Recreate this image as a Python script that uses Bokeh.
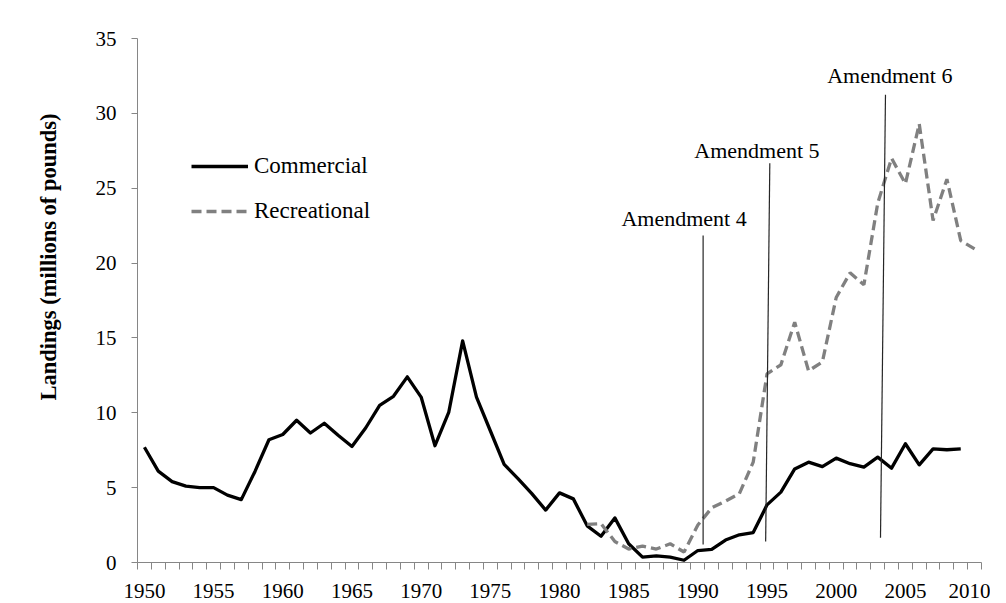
from bokeh.plotting import figure
from bokeh.models import Range1d, FixedTicker, Title, Legend, LegendItem, ColumnDataSource
from bokeh.core.properties import value
from bokeh.embed import file_html
from bokeh.resources import INLINE

# ---- data ----
years_com = list(range(1950, 2010))
commercial = [7.7, 6.1, 5.4, 5.1, 5.0, 5.0, 4.5, 4.2, 6.1, 8.2,
              8.55, 9.5, 8.65, 9.3, 8.5, 7.75, 9.0, 10.5, 11.1, 12.4,
              11.05, 7.8, 10.05, 14.8, 11.05, 8.8, 6.55, 5.6, 4.6, 3.5,
              4.65, 4.25, 2.45, 1.75, 2.98, 1.25, 0.36, 0.44, 0.36, 0.15,
              0.8, 0.87, 1.5, 1.85, 2.0, 3.85, 4.7, 6.25, 6.7, 6.4,
              6.97, 6.6, 6.37, 7.04, 6.3, 7.93, 6.52, 7.59, 7.53, 7.59]
years_rec = list(range(1982, 2011))
recreational = [2.55, 2.6, 1.4, 0.9, 1.1, 0.9, 1.25, 0.7, 2.5, 3.65,
                4.1, 4.6, 6.7, 12.6, 13.2, 16.05, 12.8, 13.4, 17.7, 19.35,
                18.55, 24.0, 27.0, 25.3, 29.3, 22.85, 25.6, 21.5, 20.95]
x_tick_years = [1950, 1955, 1960, 1965, 1970, 1975, 1980, 1985, 1990, 1995, 2000, 2005, 2010]
y_ticks = [0, 5, 10, 15, 20, 25, 30, 35]

amend_names = ["Amendment 4", "Amendment 5", "Amendment  6"]
amend_x_bottom = [1990.38, 1994.9, 2003.2]
amend_y_bottom = [1.2, 1.4, 1.65]
amend_x_top = [1990.38, 1995.2, 2003.56]
amend_y_top = [21.84, 26.67, 31.24]
amend_text_x = [1989.0, 1994.27, 2004.07]
amend_text_y = [22.98, 27.52, 32.53]

FONT = "Liberation Serif"
AXIS_GRAY = "#868686"

p = figure(width=990, height=603, x_range=Range1d(1949.5, 2010.5), y_range=Range1d(0, 35),
           output_backend="svg", toolbar_location=None,
           min_border_left=137, min_border_right=9, min_border_top=38, min_border_bottom=41)
p.xgrid.visible = False
p.ygrid.visible = False
p.outline_line_color = None
p.background_fill_color = "white"
p.border_fill_color = "white"

# x axis: labels at category centers, tick marks at category boundaries
xa = p.xaxis[0]
xa.ticker = FixedTicker(ticks=x_tick_years, minor_ticks=[y - 0.5 for y in range(1950, 2012)])
xa.major_tick_out = 0
xa.major_tick_in = 0
xa.minor_tick_out = 7
xa.minor_tick_in = 0
xa.axis_line_color = AXIS_GRAY
xa.minor_tick_line_color = AXIS_GRAY
xa.major_label_text_font = FONT
xa.major_label_text_font_size = "21px"
xa.major_label_text_color = "black"
xa.major_label_standoff = 14

ya = p.yaxis[0]
ya.ticker = FixedTicker(ticks=y_ticks, minor_ticks=[])
ya.major_tick_out = 6
ya.major_tick_in = 0
ya.minor_tick_line_color = None
ya.axis_line_color = AXIS_GRAY
ya.major_tick_line_color = AXIS_GRAY
ya.major_label_text_font = FONT
ya.major_label_text_font_size = "21px"
ya.major_label_text_color = "black"
ya.major_label_standoff = 15

# series
r_com = p.line(years_com, commercial, line_color="black", line_width=3.3, line_join="round")
r_rec = p.line(years_rec, recreational, line_color="#808080", line_width=3.3, line_dash="10 5")

# amendment markers
amend_src = ColumnDataSource(dict(x0=amend_x_bottom, y0=amend_y_bottom, x1=amend_x_top, y1=amend_y_top,
                                  tx=amend_text_x, ty=amend_text_y, name=amend_names))
p.segment(x0="x0", y0="y0", x1="x1", y1="y1", source=amend_src, line_color="#262626", line_width=1.2)
p.text(x="tx", y="ty", text="name", source=amend_src, text_font=value(FONT), text_font_size="22px",
       text_align="center", text_baseline="middle", text_color="black")

# y axis title
p.add_layout(Title(text="Landings (millions of pounds)", align="left", offset=162, standoff=63,
                   text_font=FONT, text_font_size="22.5px", text_font_style="bold",
                   text_color="black"), "left")

legend = Legend(items=[LegendItem(label="Commercial", renderers=[r_com]),
                       LegendItem(label="Recreational", renderers=[r_rec])],
                location=(54, 338), border_line_color=None, background_fill_alpha=0,
                padding=0, margin=0, glyph_width=57, glyph_height=20, label_standoff=6, spacing=19,
                label_text_font=FONT, label_text_font_size="23px", label_text_color="black")
p.add_layout(legend)

open("out.html", "w").write(file_html(p, INLINE))
